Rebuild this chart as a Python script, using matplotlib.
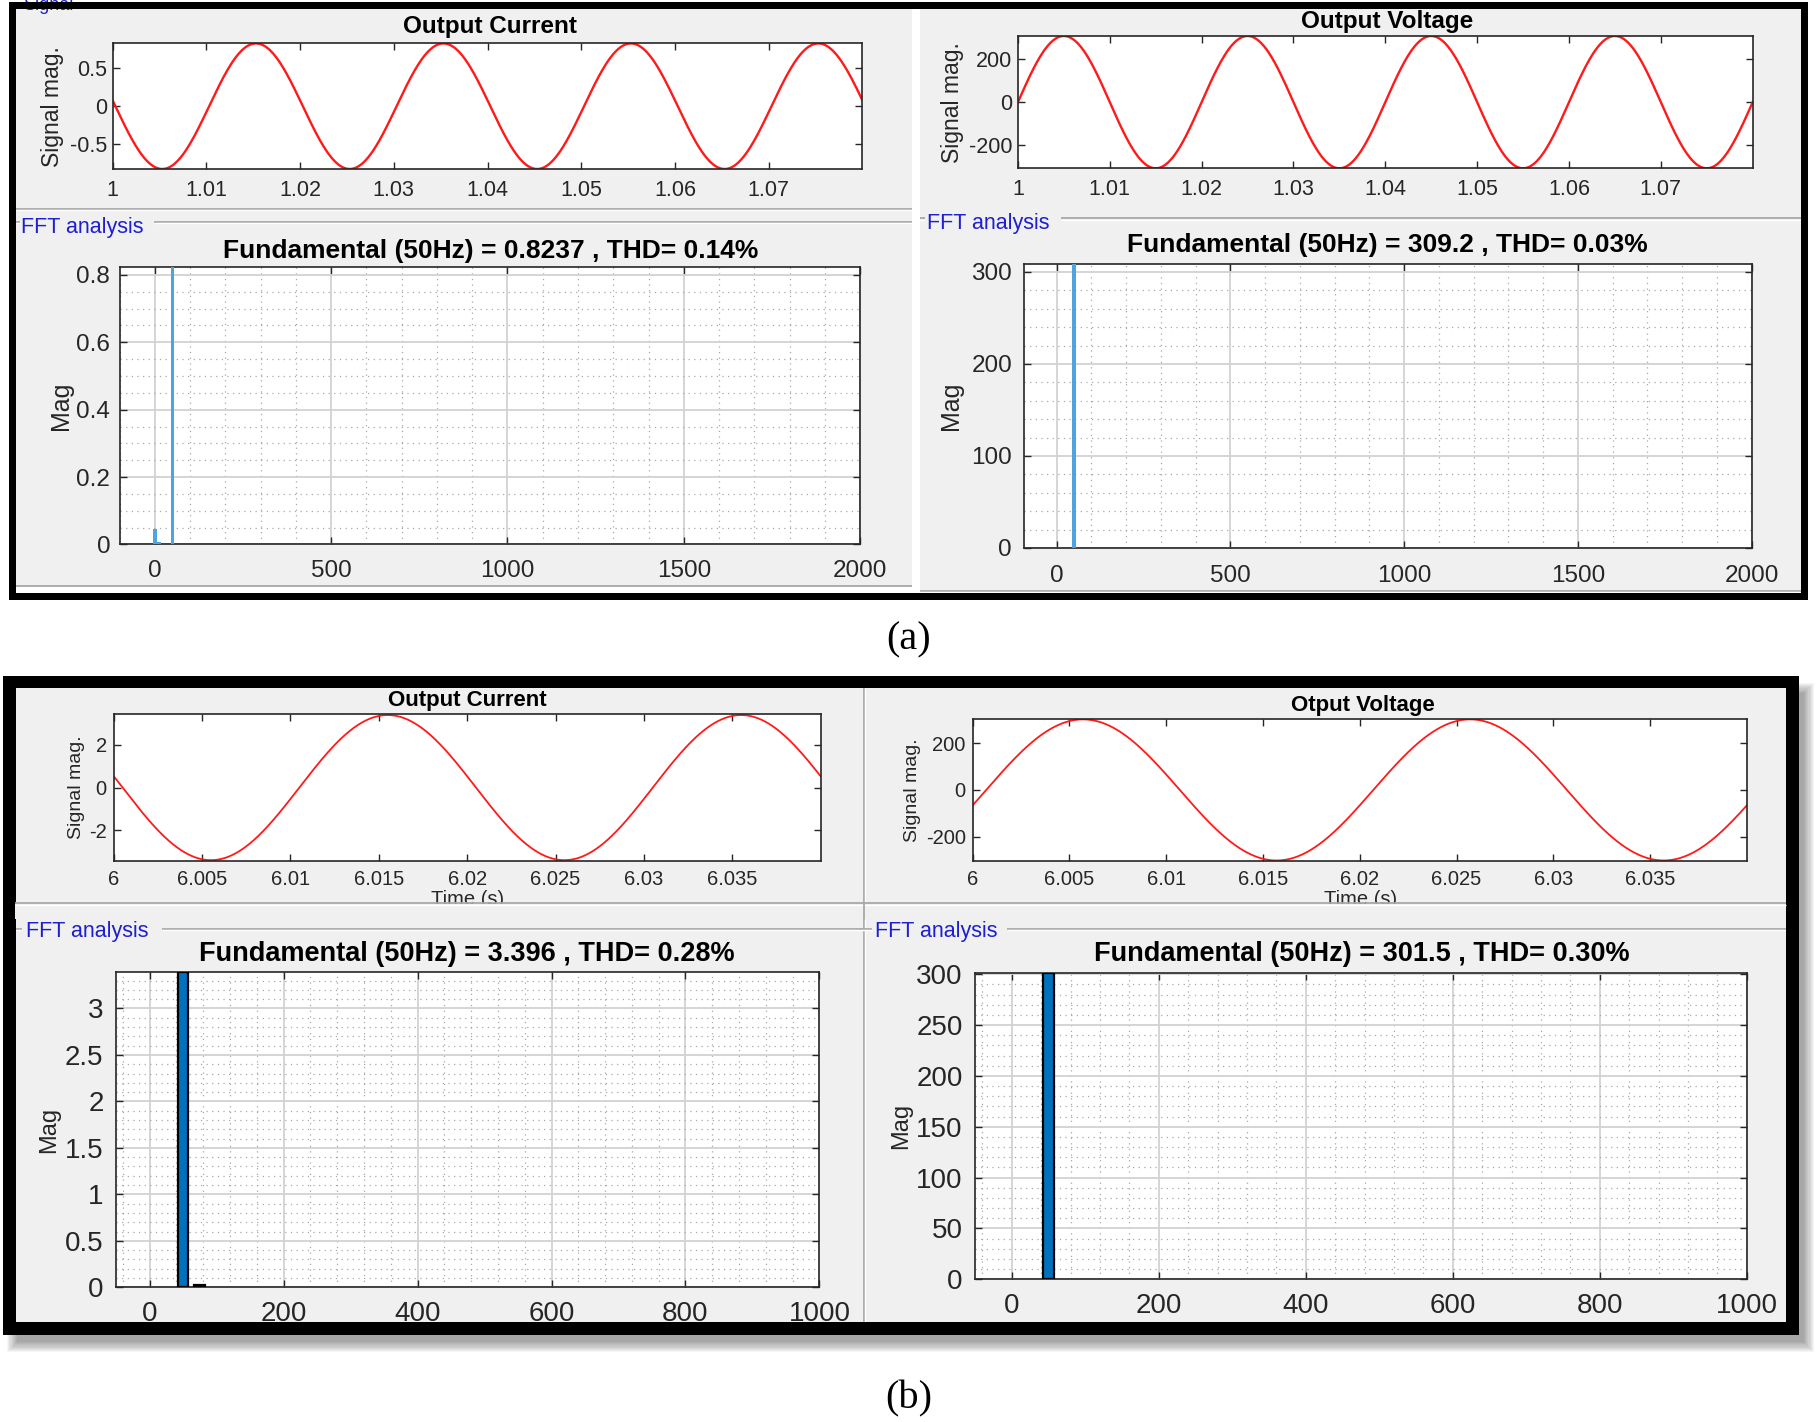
import numpy as np
import matplotlib
matplotlib.use('Agg')
import matplotlib.pyplot as plt
from matplotlib.patches import Rectangle
from matplotlib.ticker import MultipleLocator

plt.rcParams['font.family'] = ['Liberation Sans', 'DejaVu Sans']

# ---------------- data ----------------
f0 = 50  # Hz

# (a) window 1.00 - 1.08 s
a_t_start, a_t_end = 1.0, 1.08
a_cur_amp = 0.8237
a_cur_peak_t = 1.0153
a_volt_amp = 309.2
a_volt_peak_t = 1.005
a_time_ticks = [1, 1.01, 1.02, 1.03, 1.04, 1.05, 1.06, 1.07]
a_time_labels = ['1', '1.01', '1.02', '1.03', '1.04', '1.05', '1.06', '1.07']

a_cur_freq = [0, 12.5, 50]
a_cur_mag = [0.047, 0.006, 0.8237]
a_volt_freq = [0, 50]
a_volt_mag = [0.4, 309.2]

# (b) window 6.00 - 6.04 s
b_t_start, b_t_end = 6.0, 6.04
b_cur_amp = 3.396
b_cur_peak_t = 6.0155
b_volt_amp = 301.5
b_volt_peak_t = 6.0057
b_time_ticks = [6, 6.005, 6.01, 6.015, 6.02, 6.025, 6.03, 6.035]
b_time_labels = ['6', '6.005', '6.01', '6.015', '6.02', '6.025', '6.03', '6.035']

b_cur_freq = [50, 75]
b_cur_mag = [3.396, 0.02]
b_volt_freq = [50]
b_volt_mag = [301.5]

titles_a = ['Output Current', 'Output Voltage']
fft_titles_a = ['Fundamental (50Hz) = 0.8237 , THD= 0.14%',
                'Fundamental (50Hz) = 309.2 , THD= 0.03%']
titles_b = ['Output Current', 'Otput Voltage']
fft_titles_b = ['Fundamental (50Hz) = 3.396 , THD= 0.28%',
                'Fundamental (50Hz) = 301.5 , THD= 0.30%']

# ---------------- layout helpers (reference pixel units) ----------------
W, H = 1568, 1225
PANEL = '#f0f0f0'
AXC = '#262626'
BLUE_TXT = '#1f1fd1'


def rect(l, t, r, b):
    return [l / W, 1 - b / H, (r - l) / W, (b - t) / H]


fig = plt.figure(figsize=(18.2, 14.22), dpi=100)

bg = fig.add_axes([0, 0, 1, 1], zorder=-5)
bg.set_xlim(0, W)
bg.set_ylim(H, 0)
bg.axis('off')

top = fig.add_axes([0, 0, 1, 1], zorder=5)
top.set_xlim(0, W)
top.set_ylim(H, 0)
top.patch.set_alpha(0)
top.axis('off')


def fill(ax, l, t, r, b, color, **kw):
    ax.add_patch(Rectangle((l, t), r - l, b - t, facecolor=color,
                           edgecolor='none', **kw))


def etched_h(ax, y, x0, x1):
    ax.plot([x0, x1], [y, y], color='#a8a8a8', lw=1.3, solid_capstyle='butt')
    ax.plot([x0, x1], [y + 1.3, y + 1.3], color='white', lw=1.0,
            solid_capstyle='butt')


def etched_v(ax, x, y0, y1):
    ax.plot([x, x], [y0, y1], color='#a8a8a8', lw=1.3, solid_capstyle='butt')
    ax.plot([x + 1.3, x + 1.3], [y0, y1], color='white', lw=1.0,
            solid_capstyle='butt')


def frame(ax, l, t, r, b, th):
    fill(ax, l, t, r, t + th, 'black')
    fill(ax, l, b - th, r, b, 'black')
    fill(ax, l, t, l + th, b, 'black')
    fill(ax, r - th, t, r, b, 'black')


def style(ax, fs, xpad, ypad):
    ax.tick_params(which='major', direction='in', top=True, right=True,
                   length=5, width=1, colors=AXC, labelsize=fs)
    ax.tick_params(axis='x', which='major', pad=xpad)
    ax.tick_params(axis='y', which='major', pad=ypad)
    ax.tick_params(which='minor', length=0)
    for s in ax.spines.values():
        s.set_color(AXC)
        s.set_linewidth(1.2)


def signal_plot(box, t0, t1, amp, peak_t, ylim, yticks, xticks, xlabels,
                fs, lw, xpad, ypad, ylab_x, ylab_fs):
    ax = fig.add_axes(rect(*box))
    t = np.linspace(t0, t1, 1200)
    ax.plot(t, amp * np.cos(2 * np.pi * f0 * (t - peak_t)),
            color='#ff1a1a', lw=lw)
    ax.set_xlim(t0, t1)
    ax.set_ylim(-ylim, ylim)
    ax.set_xticks(xticks, xlabels)
    ax.set_yticks(yticks, [f'{v:g}' for v in yticks])
    style(ax, fs, xpad, ypad)
    ax.set_ylabel('Signal mag.', fontsize=ylab_fs, color=AXC)
    ax.yaxis.set_label_coords(ylab_x, 0.5)
    return ax


def fft_plot(box, freqs, mags, width, color, edge, xlim, ylim, xticks,
             yticks, xminor, yminor, fs, xpad, ypad, ylab_x, ylab_fs):
    ax = fig.add_axes(rect(*box))
    ax.bar(freqs, mags, width=width, color=color,
           edgecolor=edge if edge else color,
           linewidth=1.6 if edge else 0, zorder=3)
    ax.set_xlim(*xlim)
    ax.set_ylim(*ylim)
    ax.set_xticks(xticks, [f'{v:g}' for v in xticks])
    ax.set_yticks(yticks, [f'{v:g}' for v in yticks])
    ax.xaxis.set_minor_locator(MultipleLocator(xminor))
    ax.yaxis.set_minor_locator(MultipleLocator(yminor))
    ax.grid(which='major', color='#d2d2d2', lw=1.3)
    ax.grid(which='minor', color='#a8a8a8', ls=(0, (1, 3.5)), lw=0.9)
    ax.set_axisbelow(True)
    style(ax, fs, xpad, ypad)
    ax.set_ylabel('Mag', fontsize=ylab_fs, color=AXC)
    ax.yaxis.set_label_coords(ylab_x, 0.5)
    return ax


# ---------------- panel (a) background ----------------
fill(bg, 8, 2, 1558, 517, PANEL)
fill(bg, 786, 8, 793, 511, 'white')
fill(bg, 14, 506, 786, 511, 'white')
etched_h(bg, 180, 14, 786)
etched_h(bg, 191, 14, 17)
etched_h(bg, 191, 133, 786)
etched_h(bg, 505, 14, 786)
etched_h(bg, 188, 793, 797)
etched_h(bg, 188, 914, 1552)
etched_h(bg, 509, 793, 1552)
bg.text(20, 9, 'Signal', color=BLUE_TXT, fontsize=13, ha='left',
        va='baseline')
bg.text(18, 194, 'FFT analysis', color=BLUE_TXT, fontsize=15.5,
        ha='left', va='center_baseline')
bg.text(799, 190, 'FFT analysis', color=BLUE_TXT, fontsize=15.5,
        ha='left', va='center_baseline')
frame(top, 8, 2, 1558, 517, 6)

# ---------------- panel (b) background ----------------
for k in range(10):
    fill(bg, 6 + k, 588 + k, 1563 - k, 1165 - k, 'black', alpha=0.04)
fill(bg, 3, 582, 1550, 1150, PANEL)
etched_v(bg, 744, 593, 1139)
bg.text(22, 800, 'FFT analysis', color=BLUE_TXT, fontsize=15.5,
        ha='left', va='center_baseline')
bg.text(754, 800, 'FFT analysis', color=BLUE_TXT, fontsize=15.5,
        ha='left', va='center_baseline')
etched_h(bg, 800, 13, 19)
etched_h(bg, 800, 140, 743)
etched_h(bg, 800, 741, 751)
etched_h(bg, 800, 868, 1539)
frame(top, 3, 582, 1550, 1150, 11)

# panel labels
bg.text(783, 551, '(a)', family=['Liberation Serif', 'DejaVu Serif'],
        fontsize=29, ha='center', va='center')
bg.text(783, 1205, '(b)', family=['Liberation Serif', 'DejaVu Serif'],
        fontsize=29, ha='center', va='center')

# ---------------- (a) plots ----------------
signal_plot((97, 37, 743, 146), a_t_start, a_t_end, a_cur_amp, a_cur_peak_t,
            0.83, [-0.5, 0, 0.5], a_time_ticks, a_time_labels,
            15.5, 1.7, 7.5, 4, -0.065, 16.5)
signal_plot((877, 31, 1510, 145), a_t_start, a_t_end, a_volt_amp,
            a_volt_peak_t, 309.2, [-200, 0, 200], a_time_ticks, a_time_labels,
            15.5, 1.7, 7.5, 4, -0.074, 16.5)

fft_plot((103, 230, 741, 469), a_cur_freq, a_cur_mag, 10, '#4fa3e0', None,
         (-100, 2000), (0, 0.8237), [0, 500, 1000, 1500, 2000],
         [0, 0.2, 0.4, 0.6, 0.8], 100, 0.05, 17.5, 11, 6.7, -0.063, 18)
fft_plot((882, 227, 1509, 472), a_volt_freq, a_volt_mag, 10, '#4fa3e0', None,
         (-95, 2000), (0, 309.2), [0, 500, 1000, 1500, 2000],
         [0, 100, 200, 300], 100, 20, 17.5, 12.5, 8.4, -0.083, 18)

bg.text(422, 21, titles_a[0], fontsize=17.5, fontweight='bold',
        ha='center', va='center_baseline')
bg.text(1195, 16, titles_a[1], fontsize=17.5, fontweight='bold',
        ha='center', va='center_baseline')
bg.text(423, 214, fft_titles_a[0], fontsize=19, fontweight='bold',
        ha='center', va='center_baseline')
bg.text(1195, 209, fft_titles_a[1], fontsize=19, fontweight='bold',
        ha='center', va='center_baseline')

# ---------------- (b) plots ----------------
signal_plot((98, 615, 707, 742), b_t_start, b_t_end, b_cur_amp, b_cur_peak_t,
            3.45, [-2, 0, 2], b_time_ticks, b_time_labels,
            14.5, 1.3, 6, 5, -0.041, 14)
signal_plot((838, 619, 1505, 742), b_t_start, b_t_end, b_volt_amp,
            b_volt_peak_t, 305, [-200, 0, 200], b_time_ticks, b_time_labels,
            14.5, 1.3, 6, 5, -0.067, 14)

fft_plot((100, 837, 706, 1109), b_cur_freq, b_cur_mag, 16, '#0072bd', 'black',
         (-50, 1000), (0, 3.396), [0, 200, 400, 600, 800, 1000],
         [0, 0.5, 1, 1.5, 2, 2.5, 3], 40, 0.1, 20, 10, 9, -0.079, 17)
fft_plot((840, 838, 1505, 1102), b_volt_freq, b_volt_mag, 16, '#0072bd',
         'black', (-50, 1000), (0, 301.5), [0, 200, 400, 600, 800, 1000],
         [0, 50, 100, 150, 200, 250, 300], 40, 10, 20, 10, 9, -0.081, 17)

bg.text(403, 601, titles_b[0], fontsize=16, fontweight='bold',
        ha='center', va='center_baseline')
bg.text(1174, 606, titles_b[1], fontsize=16, fontweight='bold',
        ha='center', va='center_baseline')
bg.text(402, 819, fft_titles_b[0], fontsize=19.5, fontweight='bold',
        ha='center', va='center_baseline')
bg.text(1173, 819, fft_titles_b[1], fontsize=19.5, fontweight='bold',
        ha='center', va='center_baseline')

# x label "Time (s)" cut off by the panel separator
bg.text(403, 767, 'Time (s)', fontsize=14.5, color=AXC, ha='center', va='top')
bg.text(1172, 767, 'Time (s)', fontsize=14.5, color=AXC, ha='center', va='top')
fill(top, 13, 779, 1539, 792, PANEL)
etched_h(top, 778, 13, 1539)
top.plot([744, 744], [779, 792], color='#a8a8a8', lw=1.3)

fig.savefig('out.png', dpi=100)
